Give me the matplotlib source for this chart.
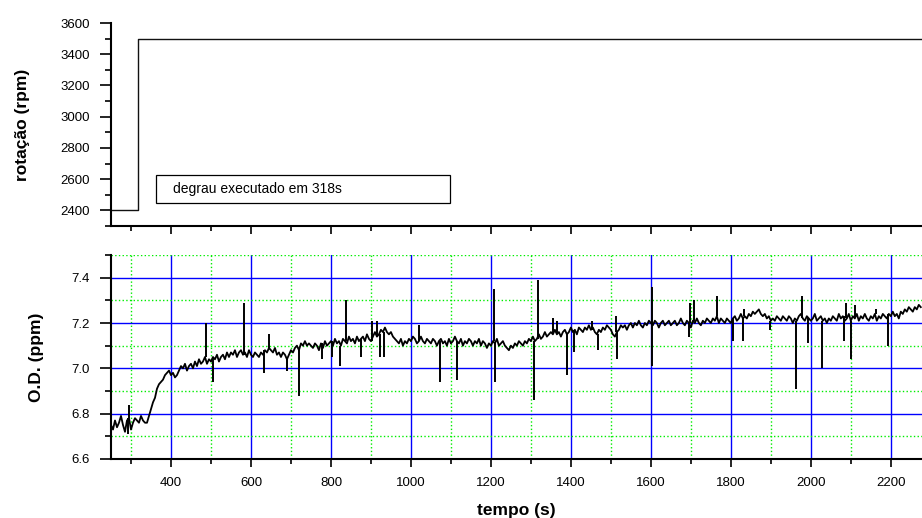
import numpy as np
import matplotlib
matplotlib.use("Agg")
import matplotlib.pyplot as plt
from matplotlib.ticker import MultipleLocator, FormatStrFormatter
from matplotlib.patches import Rectangle

plt.rcParams['font.family'] = ['Liberation Sans', 'DejaVu Sans']

# ---------------- data ----------------
# rotation step
rot_time = [250, 318, 318, 2278]
rot_rpm = [2400, 2400, 3500, 3500]
step_label = "degrau executado em 318s"

# dissolved oxygen, sampled every 5 s from 250 s
od_t0 = 250
od_dt = 5
od_values = [
    6.75, 6.73, 6.77, 6.74, 6.76, 6.79, 6.75, 6.72, 6.77, 6.78, 6.73, 6.76, 6.78, 6.77, 6.76, 6.79, 6.77, 6.76, 6.76, 6.79,
    6.82, 6.85, 6.87, 6.91, 6.93, 6.94, 6.95, 6.97, 6.98, 6.99, 6.97, 6.98, 6.96, 6.97, 6.99, 7.01, 7.00, 7.02, 6.99, 7.01,
    7.02, 7.00, 7.03, 7.01, 7.04, 7.02, 7.03, 7.05, 7.02, 7.04, 7.03, 7.05, 7.04, 7.06, 7.03, 7.05, 7.06, 7.04, 7.07, 7.05,
    7.07, 7.06, 7.08, 7.05, 7.07, 7.08, 7.06, 7.07, 7.05, 7.08, 7.06, 7.05, 7.07, 7.06, 7.05, 7.07, 7.06, 7.08, 7.07, 7.09,
    7.08, 7.07, 7.09, 7.06, 7.07, 7.05, 7.07, 7.06, 7.04, 7.06, 7.08, 7.07, 7.09, 7.10, 7.08, 7.11, 7.10, 7.12, 7.10, 7.11,
    7.10, 7.09, 7.11, 7.10, 7.08, 7.11, 7.09, 7.12, 7.10, 7.11, 7.12, 7.10, 7.13, 7.11, 7.12, 7.10, 7.13, 7.12, 7.11, 7.14,
    7.12, 7.13, 7.11, 7.14, 7.12, 7.13, 7.14, 7.12, 7.15, 7.13, 7.12, 7.14, 7.16, 7.14, 7.15, 7.17, 7.16, 7.18, 7.16, 7.15,
    7.16, 7.14, 7.13, 7.12, 7.11, 7.13, 7.10, 7.12, 7.11, 7.13, 7.12, 7.14, 7.13, 7.11, 7.12, 7.14, 7.12, 7.11, 7.13, 7.12,
    7.11, 7.13, 7.12, 7.10, 7.12, 7.13, 7.11, 7.12, 7.10, 7.13, 7.11, 7.12, 7.14, 7.12, 7.11, 7.13, 7.10, 7.12, 7.11, 7.13,
    7.12, 7.10, 7.12, 7.11, 7.13, 7.10, 7.12, 7.11, 7.09, 7.11, 7.10, 7.12, 7.11, 7.13, 7.10, 7.11, 7.12, 7.10, 7.09, 7.08,
    7.10, 7.09, 7.11, 7.10, 7.12, 7.11, 7.10, 7.12, 7.11, 7.13, 7.12, 7.14, 7.12, 7.13, 7.15, 7.13, 7.14, 7.16, 7.14, 7.15,
    7.16, 7.15, 7.17, 7.15, 7.16, 7.14, 7.16, 7.17, 7.15, 7.16, 7.18, 7.16, 7.17, 7.15, 7.18, 7.17, 7.16, 7.18, 7.17, 7.19,
    7.17, 7.18, 7.16, 7.15, 7.17, 7.16, 7.18, 7.17, 7.19, 7.18, 7.17, 7.15, 7.14, 7.16, 7.17, 7.19, 7.18, 7.19, 7.17, 7.19,
    7.20, 7.18, 7.20, 7.19, 7.21, 7.19, 7.18, 7.20, 7.19, 7.21, 7.20, 7.19, 7.21, 7.20, 7.18, 7.20, 7.21, 7.19, 7.20, 7.21,
    7.19, 7.20, 7.21, 7.19, 7.20, 7.22, 7.20, 7.19, 7.21, 7.20, 7.18, 7.21, 7.20, 7.22, 7.20, 7.19, 7.21, 7.20, 7.22, 7.21,
    7.20, 7.22, 7.21, 7.23, 7.20, 7.22, 7.21, 7.20, 7.22, 7.21, 7.20, 7.22, 7.23, 7.21, 7.22, 7.24, 7.22, 7.23, 7.22, 7.24,
    7.23, 7.25, 7.24, 7.25, 7.26, 7.24, 7.23, 7.24, 7.22, 7.23, 7.21, 7.22, 7.21, 7.23, 7.22, 7.21, 7.23, 7.22, 7.21, 7.23,
    7.22, 7.20, 7.22, 7.21, 7.23, 7.24, 7.22, 7.21, 7.23, 7.22, 7.21, 7.22, 7.24, 7.21, 7.22, 7.23, 7.21, 7.22, 7.20, 7.22,
    7.21, 7.23, 7.22, 7.21, 7.24, 7.22, 7.23, 7.21, 7.22, 7.24, 7.21, 7.23, 7.22, 7.24, 7.21, 7.23, 7.22, 7.24, 7.22, 7.21,
    7.23, 7.22, 7.24, 7.21, 7.23, 7.22, 7.24, 7.23, 7.22, 7.24, 7.23, 7.25, 7.23, 7.24, 7.22, 7.25, 7.24, 7.26, 7.25, 7.27,
    7.26, 7.25, 7.27, 7.26, 7.28, 7.27,
]

# isolated spikes (time s, O.D. ppm)
spike_time = [293, 296, 487, 504, 582, 633, 646, 690, 720, 777, 802, 823, 837, 875, 902, 914, 922, 932,
              1020, 1072, 1114, 1207, 1209, 1308, 1317, 1355, 1366, 1390, 1409, 1452, 1467, 1513, 1515,
              1603, 1604, 1696, 1697, 1707, 1766, 1805, 1830, 1834, 1898, 1964, 1979, 1993, 2029, 2082,
              2089, 2101, 2110, 2162, 2194]
spike_od = [6.71, 6.84, 7.20, 6.94, 7.29, 6.98, 7.15, 6.99, 6.88, 7.04, 7.05, 7.01, 7.30, 7.05, 7.21, 7.21, 7.05, 7.05,
            7.19, 6.94, 6.95, 7.35, 6.94, 6.86, 7.39, 7.22, 7.21, 6.97, 7.07, 7.21, 7.08, 7.23, 7.04,
            7.36, 7.01, 7.14, 7.29, 7.30, 7.32, 7.12, 7.12, 7.26, 7.17, 6.91, 7.32, 7.11, 7.00, 7.12,
            7.29, 7.04, 7.28, 7.26, 7.10]

x_min, x_max = 250, 2278

# ---------------- figure ----------------
W, H = 922, 518
fig = plt.figure(figsize=(W / 100, H / 100), dpi=100)

def box(l, t, r, b):
    return [l / W, 1 - b / H, (r - l) / W, (b - t) / H]

ax1 = fig.add_axes(box(111, 23, 922, 226))
ax2 = fig.add_axes(box(111, 255, 922, 459))

tick_fs = 9.5
lab_fs = 12.5

# top panel
ax1.plot(rot_time, rot_rpm, color='#111111', lw=1.0)
ax1.set_xlim(x_min, x_max)
ax1.set_ylim(2300, 3600)
ax1.yaxis.set_major_locator(MultipleLocator(200))
ax1.yaxis.set_minor_locator(MultipleLocator(100))
ax1.xaxis.set_major_locator(MultipleLocator(200))
ax1.xaxis.set_minor_locator(MultipleLocator(100))
ax1.tick_params(axis='x', which='both', labelbottom=False)
ax1.set_ylabel("rotação (rpm)", fontsize=lab_fs, fontweight='bold', labelpad=22)
ax1.add_patch(Rectangle((0.0555, 0.113), 0.3625, 0.138, transform=ax1.transAxes,
                        facecolor='white', edgecolor='black', lw=0.9, zorder=3))
ax1.text(0.0765, 0.182, step_label, transform=ax1.transAxes, fontsize=tick_fs + 0.5,
         ha='left', va='center', zorder=4)

# bottom panel
t_grid = od_t0 + od_dt * np.arange(len(od_values))
od_arr = np.array(od_values)
ax2.plot(t_grid, od_arr, color='black', lw=1.3, zorder=3)
# spikes as vertical strokes from the nearest sample
idx = np.clip(np.round((np.array(spike_time) - od_t0) / od_dt).astype(int), 0, len(od_values) - 1)
ax2.vlines(spike_time, od_arr[idx], spike_od, color='black', lw=1.4, zorder=3)
ax2.set_xlim(x_min, x_max)
ax2.set_ylim(6.6, 7.5)
ax2.xaxis.set_major_locator(MultipleLocator(200))
ax2.xaxis.set_minor_locator(MultipleLocator(100))
ax2.yaxis.set_major_locator(MultipleLocator(0.2))
ax2.yaxis.set_minor_locator(MultipleLocator(0.1))
ax2.yaxis.set_major_formatter(FormatStrFormatter('%.1f'))
ax2.grid(which='major', color='#0000ff', lw=1.0, ls='-', zorder=1)
ax2.grid(which='minor', color='#00ee00', lw=1.0, ls=':', zorder=1)
ax2.set_axisbelow(True)
ax2.set_ylabel("O.D. (ppm)", fontsize=lab_fs, fontweight='bold', labelpad=20)
ax2.set_xlabel("tempo (s)", fontsize=lab_fs, fontweight='bold', labelpad=10)

for ax in (ax1, ax2):
    ax.spines['top'].set_visible(False)
    ax.spines['right'].set_visible(False)
    ax.spines['left'].set_linewidth(1.5)
    ax.spines['bottom'].set_linewidth(1.5)
    ax.tick_params(axis='y', which='major', direction='out', length=8, width=1.2,
                   labelsize=tick_fs, pad=7)
    ax.tick_params(axis='y', which='minor', direction='out', length=4, width=1.2)
    ax.tick_params(axis='x', which='major', direction='out', length=6, width=1.2,
                   labelsize=tick_fs, pad=7)
    ax.tick_params(axis='x', which='minor', direction='out', length=3.5, width=1.2)

fig.savefig("out.png", dpi=100)
